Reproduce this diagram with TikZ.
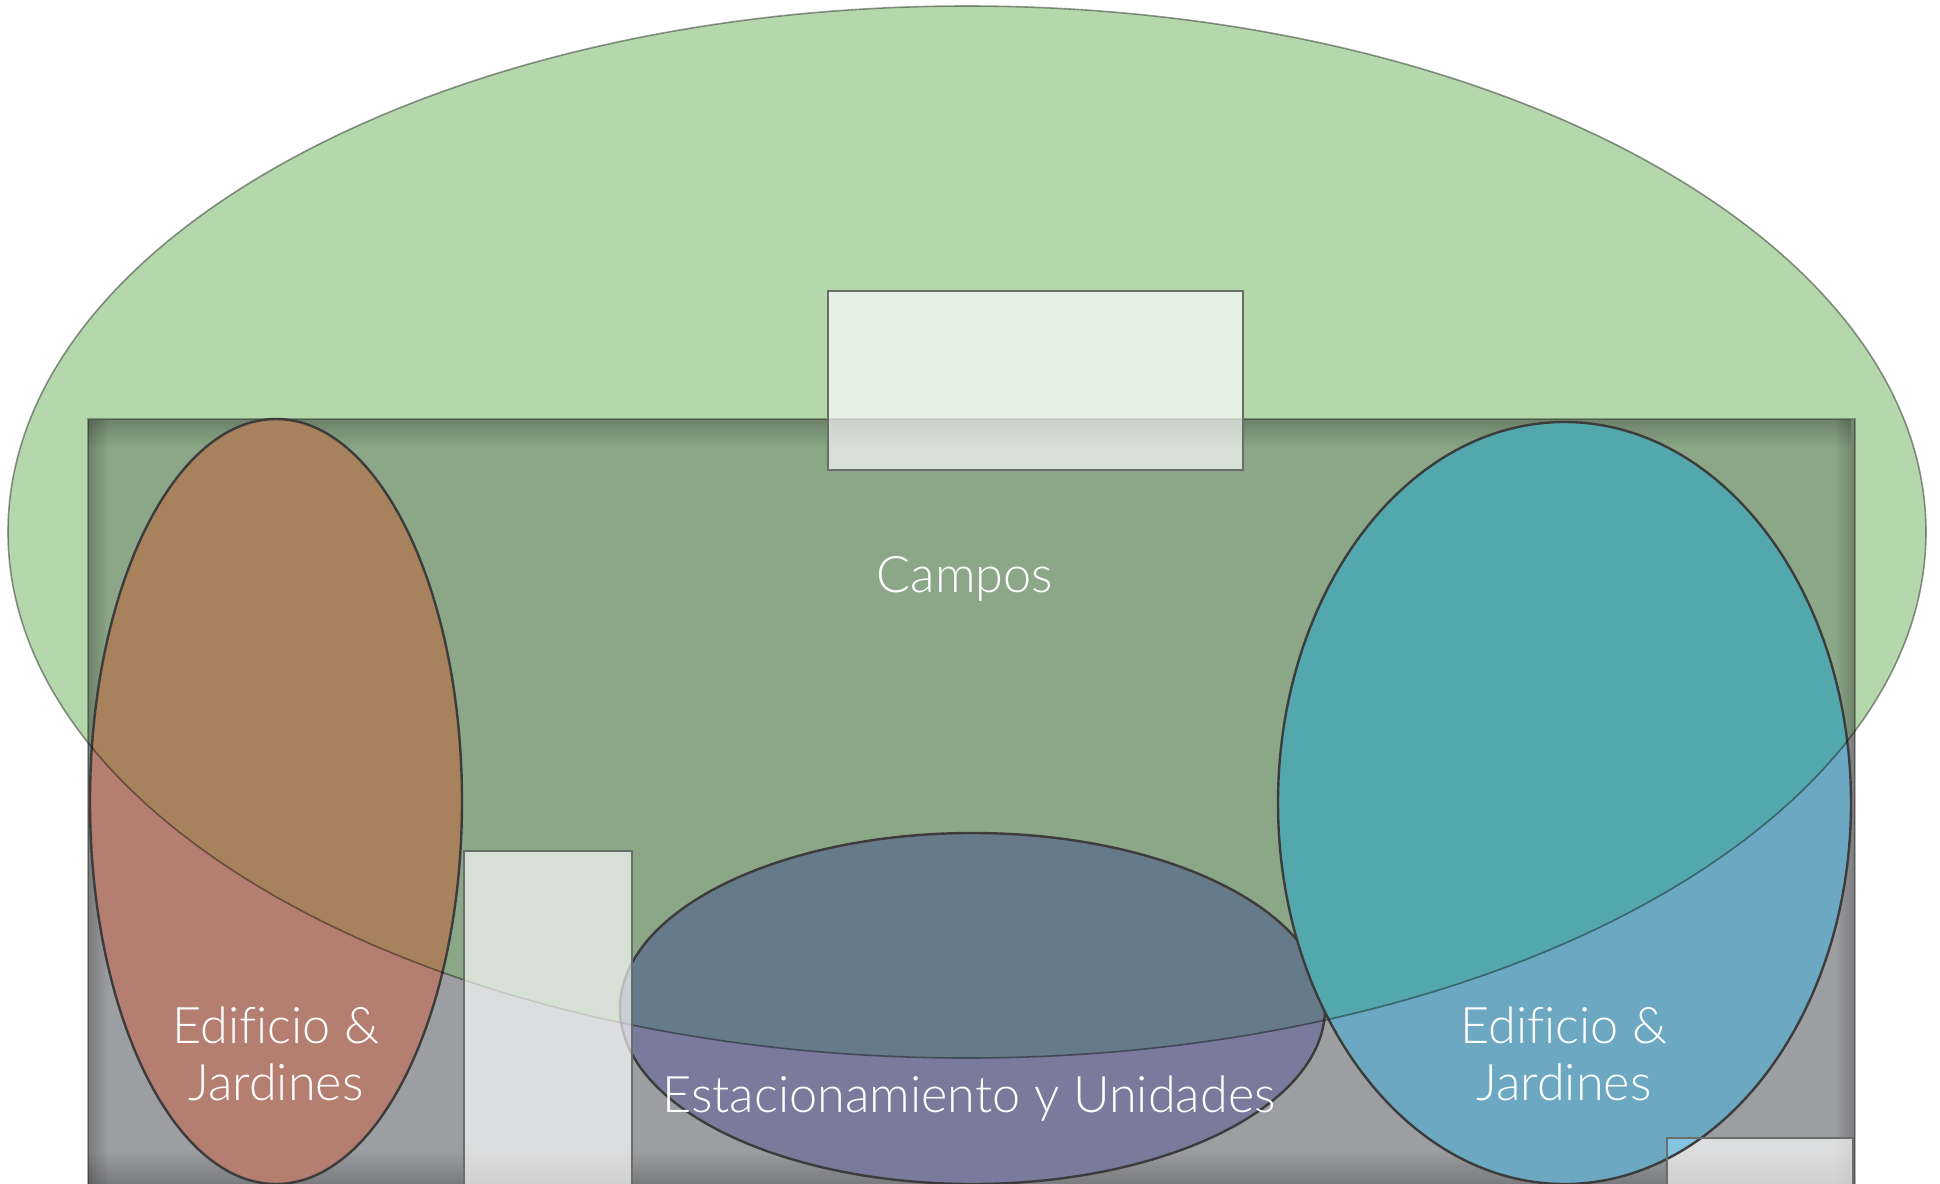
\documentclass[tikz,border=0pt]{standalone}
\usepackage{fontspec}
\setmainfont{Lato Light}[Ligatures={NoCommon}]
\usetikzlibrary{fadings}
\definecolor{grnout}{HTML}{B5D7AC}
\definecolor{grnin}{HTML}{8BA787}
\definecolor{rectgray}{HTML}{9D9EA1}
\definecolor{orgin}{HTML}{A8825C}
\definecolor{orgout}{HTML}{B47F70}
\definecolor{tealin}{HTML}{53A8AD}
\definecolor{tealout}{HTML}{6CA8C2}
\definecolor{tealbox}{HTML}{84C4E2}
\definecolor{bluein}{HTML}{667A8A}
\definecolor{blueout}{HTML}{7A7A9C}
\definecolor{edge}{HTML}{3C3C3C}
\definecolor{boxedge}{HTML}{6A6E6A}
\tikzfading[name=fadetop, top color=transparent!0, bottom color=transparent!100]
\tikzfading[name=fadebot, top color=transparent!100, bottom color=transparent!0]
\tikzfading[name=fadeleft, left color=transparent!0, right color=transparent!100]
\tikzfading[name=faderight, left color=transparent!100, right color=transparent!0]
\tikzset{
  lbl/.style={text=white, font=\fontsize{25.2}{28.5}\selectfont, inner sep=0pt, align=center},
  ellline/.style={draw=edge, line width=1.2pt},
  wbox/.style={fill=white, fill opacity=0.65, draw=boxedge, line width=1.1pt}
}
\begin{document}
\begin{tikzpicture}[x=0.5pt,y=-0.5pt]
\useasboundingbox (0,0) rectangle (1940,1184);
% green ellipse
\fill[grnout] (967,532) ellipse [x radius=959, y radius=526];
% gray rectangle
\fill[rectgray] (88,419) rectangle (1855,1184);
\begin{scope}
  \clip (88,419) rectangle (1855,1184);
  \fill[grnin] (967,532) ellipse [x radius=959, y radius=526];
  \fill[black, opacity=0.22, path fading=fadetop] (88,419) rectangle (1855,448);
  \fill[black, opacity=0.22, path fading=fadebot] (88,1150) rectangle (1855,1184);
  \fill[black, opacity=0.22, path fading=fadeleft] (88,419) rectangle (108,1184);
  \fill[black, opacity=0.22, path fading=faderight] (1835,419) rectangle (1855,1184);
\end{scope}
\draw[black, opacity=0.3, line width=0.6pt] (88,1184) -- (88,419) -- (1855,419) -- (1855,1184);
% orange ellipse
\fill[orgout] (276,801.5) ellipse [x radius=186, y radius=382.5];
\begin{scope}
  \clip (967,532) ellipse [x radius=959, y radius=526];
  \fill[orgin] (276,801.5) ellipse [x radius=186, y radius=382.5];
\end{scope}
\draw[ellline] (276,801.5) ellipse [x radius=186, y radius=382.5];
% blue ellipse
\fill[blueout] (972.5,1008.5) ellipse [x radius=352.5, y radius=175.5];
\begin{scope}
  \clip (967,532) ellipse [x radius=959, y radius=526];
  \fill[bluein] (972.5,1008.5) ellipse [x radius=352.5, y radius=175.5];
\end{scope}
\draw[ellline] (972.5,1008.5) ellipse [x radius=352.5, y radius=175.5];
% teal ellipse
\fill[tealout] (1564.5,803) ellipse [x radius=286.5, y radius=381];
\begin{scope}
  \clip (967,532) ellipse [x radius=959, y radius=526];
  \fill[tealin] (1564.5,803) ellipse [x radius=286.5, y radius=381];
\end{scope}
\draw[ellline] (1564.5,803) ellipse [x radius=286.5, y radius=381];
% green outline
\draw[black, opacity=0.4, line width=0.8pt] (967,532) ellipse [x radius=959, y radius=526];
% white boxes
\draw[wbox] (828,291) rectangle (1243,470);
\draw[wbox] (464,851) rectangle (632,1190);
\draw[wbox] (1667,1138) rectangle (1853,1190);
\begin{scope}
  \clip (1667,1138) rectangle (1853,1190);
  \fill[tealbox] (1564.5,803) ellipse [x radius=286.5, y radius=381];
  \draw[ellline] (1564.5,803) ellipse [x radius=286.5, y radius=381];
\end{scope}
\draw[draw=boxedge, line width=1.1pt] (1667,1190) -- (1667,1138) -- (1853,1138) -- (1853,1190);
% labels
\node[lbl] (campos) at (965,579) {Campos};
\node[lbl] (edl) at (276,1054) {Edificio \&\\Jardines};
\node[lbl] (edr) at (1564,1054) {Edificio \&\\Jardines};
\node[lbl] (est) at (969,1099) {Estacionamiento y Unidades};
\end{tikzpicture}
\end{document}
